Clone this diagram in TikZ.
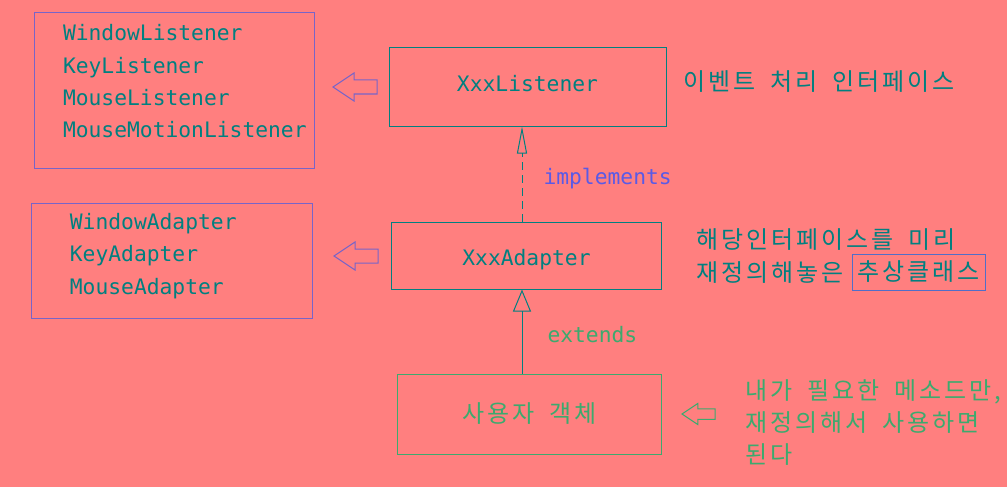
\documentclass[tikz,border=0pt]{standalone}
\usepackage{fontspec}
\setmonofont{DejaVu Sans Mono}
\newfontfamily\kr[LetterSpace=12,WordSpace=1.8]{Noto Sans CJK KR}
\usetikzlibrary{arrows.meta}
\definecolor{bgsalmon}{RGB}{255,127,127}
\definecolor{tealc}{RGB}{0,128,128}
\definecolor{violetc}{RGB}{120,100,200}
\definecolor{bluec}{RGB}{90,90,230}
\definecolor{greenc}{RGB}{60,170,110}
\definecolor{framec}{RGB}{80,110,200}
\tikzset{
  code/.style={font=\ttfamily\fontsize{21.3}{32.3}\selectfont, text=tealc},
  hangul/.style={font=\kr\fontsize{24}{32.4}\selectfont, text=tealc},
  classbox/.style={draw=tealc, line width=1pt, code},
  listbox/.style={draw=violetc, line width=1pt, code, align=left, inner ysep=0pt},
  note/.style={hangul, align=left, inner sep=0pt, anchor=west},
  hollowarrow/.pic={\draw (0,0) -- (21,-14) -- (21,-7) -- (44,-7) -- (44,7) -- (21,7) -- (21,14) -- cycle;}
}
\begin{document}
\begin{tikzpicture}[x=1pt,y=-1pt,line width=1pt]
\fill[bgsalmon] (0,0) rectangle (1007,487);
\useasboundingbox (0,0) rectangle (1007,487);
\node[listbox, inner xsep=29pt, text width=222pt, minimum height=155pt] (listeners) at (174,90.5) {WindowListener\\KeyListener\\MouseListener\\\mbox{MouseMotionListener}\\[-14pt]\mbox{}};
\node[listbox, inner xsep=38pt, text width=205pt, minimum height=115pt] (adapters) at (172.4,260.5) {WindowAdapter\\KeyAdapter\\MouseAdapter\\[-19pt]\mbox{}};
\pic[violetc] at (333,87) {hollowarrow};
\pic[violetc] at (334,256) {hollowarrow};
\node[classbox, text depth=8pt, minimum width=277pt, minimum height=78pt] (listener) at (527.5,87) {XxxListener};
\node[classbox, text height=25pt, minimum width=270pt, minimum height=67pt] (adapter) at (526.5,255.5) {XxxAdapter};
\node[draw=greenc, hangul, text=greenc, minimum width=264pt, minimum height=80pt] (user) at (529.5,414) {사용자 객체};
\coordinate (axis) at (522,0);
\draw[tealc, dash pattern=on 8pt off 5pt, -{Triangle[open, length=27pt, width=10pt]}] (adapter.north -| axis) -- (listener.south -| axis);
\draw[tealc, -{Triangle[open, length=22pt, width=18pt]}] (user.north -| axis) -- (adapter.south -| axis);
\node[code, text=bluec, anchor=west, inner sep=0pt] (impl) at (543,179) {implements};
\node[code, text=greenc, anchor=west, inner sep=0pt] (ext) at (547,335) {extends};
\node[note] (listenernote) at (683,82) {이벤트 처리 인터페이스};
\node[note] (adapternote) at (696,256) {해당인터페이스를 미리\\재정의해놓은};
\node[draw=framec, hangul, minimum width=133pt, minimum height=36pt, inner sep=0pt] (abstract) at (918.5,272) {추상클래스};
\pic[greenc, scale=0.75] at (682,414) {hollowarrow};
\node[note, text=greenc] (usernote) at (745,422.5) {내가 필요한 메소드만,\\재정의해서 사용하면\\된다};
\end{tikzpicture}
\end{document}
